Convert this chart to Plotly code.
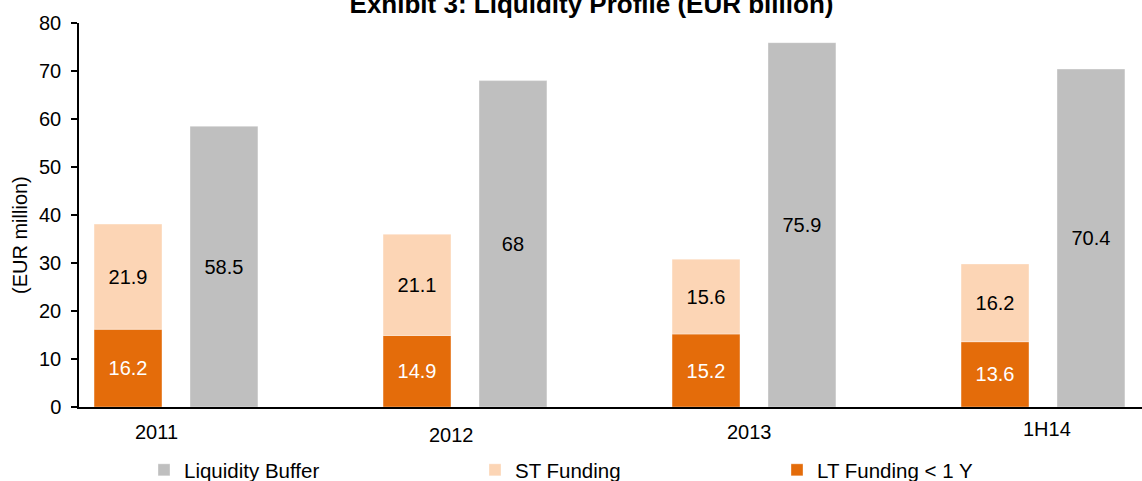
import plotly.graph_objects as go

categories = ["2011", "2012", "2013", "1H14"]
lt_funding = [16.2, 14.9, 15.2, 13.6]
st_funding = [21.9, 21.1, 15.6, 16.2]
liquidity_buffer = [58.5, 68, 75.9, 70.4]
y_ticks = [0, 10, 20, 30, 40, 50, 60, 70, 80]

FONT = "Liberation Sans, Arial, sans-serif"
ORANGE = "#E46C0A"
PEACH = "#FCD5B5"
GRAY = "#BFBFBF"
EDGE = "rgba(255,255,255,0.35)"

fig = go.Figure()

fig.add_trace(go.Bar(
    x=categories, y=lt_funding, name="LT Funding < 1 Y",
    offsetgroup="fund", marker=dict(color=ORANGE, line=dict(width=1, color=EDGE)),
    text=[f"{v:g}" for v in lt_funding], textposition="inside", insidetextanchor="middle",
    textangle=0, insidetextfont=dict(color="white", size=20, family=FONT),
    legend="legend3", hoverinfo="skip",
))
fig.add_trace(go.Bar(
    x=categories, y=st_funding, base=lt_funding, name="ST Funding",
    offsetgroup="fund", marker=dict(color=PEACH, line=dict(width=1, color=EDGE)),
    text=[f"{v:g}" for v in st_funding], textposition="inside", insidetextanchor="middle",
    textangle=0, insidetextfont=dict(color="black", size=20, family=FONT),
    legend="legend2", hoverinfo="skip",
))
fig.add_trace(go.Bar(
    x=categories, y=liquidity_buffer, name="Liquidity Buffer",
    offsetgroup="buf", marker=dict(color=GRAY, line=dict(width=1, color=EDGE)),
    text=[f"{v:g}" for v in liquidity_buffer], textposition="inside", insidetextanchor="middle",
    textangle=0, insidetextfont=dict(color="black", size=20, family=FONT),
    legend="legend", hoverinfo="skip",
))

# category labels (slightly offset as in the original)
label_xshift = [-19, -13, -4, 4]
label_yshift = [-25, -28, -25, -22]
for i, (c, dx, dy) in enumerate(zip(categories, label_xshift, label_yshift)):
    fig.add_annotation(x=i, y=0, xref="x", yref="y", text=c, showarrow=False,
                       xshift=dx, yshift=dy, yanchor="middle", xanchor="center",
                       font=dict(size=20, color="black", family=FONT))

# y-axis title
fig.add_annotation(x=0, y=(407 - 235) / 384, xref="paper", yref="paper",
                   text="(EUR million)", textangle=-90, showarrow=False,
                   xanchor="center", yanchor="middle", xshift=-59,
                   font=dict(size=20, color="black", family=FONT))

W, H = 1142, 481

def leg(x_px):
    return dict(orientation="h", xref="container", yref="container",
                x=x_px / W, xanchor="left", y=1 - 470 / H, yanchor="middle",
                font=dict(size=20.5, color="black", family=FONT),
                bgcolor="rgba(0,0,0,0)", borderwidth=0)

fig.update_layout(
    width=W, height=H,
    barmode="group", bargap=0.336, bargroupgap=0.292,
    plot_bgcolor="white", paper_bgcolor="white",
    margin=dict(l=79, r=0, t=23, b=74, autoexpand=False),
    font=dict(family=FONT, size=20, color="black"),
    title=dict(text="<b>Exhibit 3: Liquidity Profile (EUR billion)</b>",
               x=591.5 / W, xanchor="center", xref="container",
               y=1 - 3.5 / H, yanchor="middle", yref="container",
               font=dict(size=26, color="black", family=FONT)),
    xaxis=dict(type="category", range=[-0.3356, 3.3426], showticklabels=False,
               ticks="", showline=True, linecolor="black", linewidth=1.5,
               showgrid=False, zeroline=False, fixedrange=True),
    yaxis=dict(range=[0, 80], tickvals=y_ticks, ticks="outside", ticklen=6,
               tickcolor="black", tickwidth=1.5, showline=True, linecolor="black",
               linewidth=1.5, showgrid=False, zeroline=False, ticklabelstandoff=6,
               fixedrange=True, tickfont=dict(size=20, color="black", family=FONT)),
    legend=leg(144),
    legend2=leg(475),
    legend3=leg(777),
    showlegend=True,
    hovermode=False,
)

fig.write_html("out.html", config={"displayModeBar": False},
               post_script="document.body.style.margin='0';document.body.style.overflow='hidden';")
